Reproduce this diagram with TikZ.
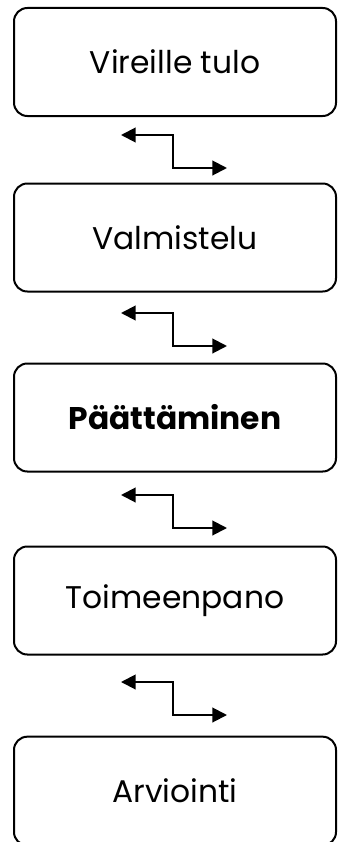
\documentclass[tikz,border=0pt]{standalone}
\usepackage{fontspec}
\setmainfont{Poppins}
\usetikzlibrary{arrows.meta}

\begin{document}
\begin{tikzpicture}[x=0.75pt, y=-0.75pt, line width=1.5pt,
    stage/.style={draw, rounded corners=10pt, minimum width=241.5pt, minimum height=81pt, font=\fontsize{23.5}{26}\selectfont},
    swap/.style={{Triangle[length=11pt, width=11pt]}-{Triangle[length=11pt, width=11pt]}}]
    \useasboundingbox (0, 0) rectangle (338, 842);

    \node[stage] (A) at (175, 62) {Vireille tulo};
    \node[stage] (B) at (175, 237.5) {Valmistelu};
    \node[stage] (C) at (175, 417.5) {\textbf{Päättäminen}};
    \node[stage] (D) at (175, 600.5) {Toimeenpano};
    \node[stage, minimum height=81.5pt] (E) at (175, 791) {Arviointi};

    % nuolet
    \foreach \n/\y in {1/135, 2/313, 3/495, 4/682} {
        \coordinate (L\n) at (121, \y);
        \coordinate (K\n) at (173, \y);
        \coordinate (R\n) at (227, \y + 33);
        \draw[swap] (L\n) -- (K\n) |- (R\n);
    }

  \end{tikzpicture}
\end{document}
